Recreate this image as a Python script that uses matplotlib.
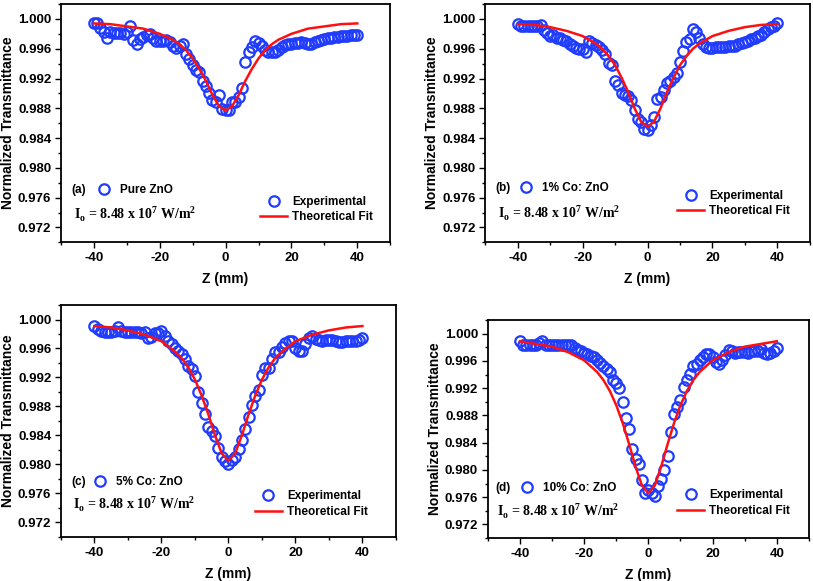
import matplotlib
matplotlib.use("Agg")
import matplotlib.pyplot as plt
from matplotlib.lines import Line2D
from matplotlib.ticker import MultipleLocator, FormatStrFormatter

plt.rcParams["font.family"] = ["Liberation Sans", "DejaVu Sans"]
plt.rcParams["font.weight"] = "bold"
plt.rcParams["axes.unicode_minus"] = False
plt.rcParams["mathtext.fontset"] = "custom"
plt.rcParams["mathtext.rm"] = "Liberation Serif:bold"
plt.rcParams["mathtext.bf"] = "Liberation Serif:bold"

# z positions of the experimental points (mm)
z_exp = list(range(-40, 41))

# normalized transmittance
t_pure = [
    0.9994, 0.9994, 0.9988, 0.9983, 0.9974, 0.9982, 0.9981, 0.9981, 0.9981, 0.9980,
    0.9983, 0.9990, 0.9972, 0.9967, 0.9973, 0.9976, 0.9979, 0.9980, 0.9974, 0.9971,
    0.9971, 0.9971, 0.9972, 0.9969, 0.9963, 0.9961, 0.9963, 0.9966, 0.9953, 0.9946,
    0.9938, 0.9931, 0.9929, 0.9916, 0.9910, 0.9900, 0.9891, 0.9888, 0.9898, 0.9879,
    0.9878,
    0.9878, 0.9888, 0.9889, 0.9895, 0.9907, 0.9942, 0.9956, 0.9962, 0.9970, 0.9968,
    0.9963, 0.9958, 0.9956, 0.9956, 0.9955, 0.9958, 0.9962, 0.9965, 0.9967, 0.9967,
    0.9968, 0.9968, 0.9969, 0.9968, 0.9967, 0.9967, 0.9969, 0.9970, 0.9972, 0.9973,
    0.9974, 0.9975, 0.9976, 0.9976, 0.9977, 0.9977, 0.9977, 0.9978, 0.9978, 0.9979,
]
t_co1 = [
    0.9993, 0.9991, 0.9990, 0.9990, 0.9990, 0.9990, 0.9991, 0.9992, 0.9985, 0.9981,
    0.9977, 0.9978, 0.9975, 0.9974, 0.9972, 0.9970, 0.9967, 0.9964, 0.9961, 0.9959,
    0.9960, 0.9955, 0.9971, 0.9968, 0.9965, 0.9962, 0.9958, 0.9953, 0.9941, 0.9938,
    0.9916, 0.9911, 0.9901, 0.9898, 0.9897, 0.9891, 0.9878, 0.9865, 0.9862, 0.9852,
    0.9851,
    0.9858, 0.9868, 0.9893, 0.9895, 0.9904, 0.9914, 0.9917, 0.9922, 0.9928, 0.9942,
    0.9957, 0.9969, 0.9973, 0.9986, 0.9982, 0.9974, 0.9966, 0.9962, 0.9961, 0.9961,
    0.9962, 0.9962, 0.9962, 0.9962, 0.9963, 0.9963, 0.9964, 0.9966, 0.9968, 0.9969,
    0.9971, 0.9973, 0.9975, 0.9977, 0.9979, 0.9982, 0.9986, 0.9989, 0.9991, 0.9994,
]
t_co5 = [
    0.9991, 0.9987, 0.9984, 0.9983, 0.9983, 0.9983, 0.9984, 0.9990, 0.9984, 0.9983,
    0.9983, 0.9983, 0.9983, 0.9983, 0.9982, 0.9983, 0.9974, 0.9976, 0.9982, 0.9982,
    0.9984, 0.9977, 0.9971, 0.9966, 0.9960, 0.9957, 0.9952, 0.9946, 0.9936, 0.9932,
    0.9922, 0.9900, 0.9885, 0.9870, 0.9852, 0.9846, 0.9839, 0.9822, 0.9810, 0.9805,
    0.9800,
    0.9806, 0.9810, 0.9821, 0.9833, 0.9849, 0.9865, 0.9882, 0.9895, 0.9903, 0.9924,
    0.9933, 0.9933, 0.9945, 0.9955, 0.9955, 0.9962, 0.9967, 0.9971, 0.9970, 0.9960,
    0.9957, 0.9957, 0.9966, 0.9975, 0.9977, 0.9973, 0.9972, 0.9971, 0.9972, 0.9972,
    0.9972, 0.9970, 0.9969, 0.9969, 0.9970, 0.9970, 0.9970, 0.9971, 0.9972, 0.9974,
]
t_co10 = [
    0.9990, 0.9984, 0.9983, 0.9983, 0.9983, 0.9984, 0.9987, 0.9989, 0.9984, 0.9983,
    0.9983, 0.9983, 0.9983, 0.9983, 0.9983, 0.9983, 0.9984, 0.9979, 0.9976, 0.9974,
    0.9972, 0.9970, 0.9968, 0.9966, 0.9961, 0.9957, 0.9953, 0.9948, 0.9944, 0.9932,
    0.9927, 0.9921, 0.9900, 0.9876, 0.9860, 0.9831, 0.9816, 0.9808, 0.9785, 0.9766,
    0.9771,
    0.9766, 0.9762, 0.9776, 0.9786, 0.9800, 0.9821, 0.9855, 0.9882, 0.9893, 0.9903,
    0.9922, 0.9932, 0.9941, 0.9952, 0.9955, 0.9961, 0.9966, 0.9970, 0.9970, 0.9966,
    0.9958, 0.9956, 0.9962, 0.9969, 0.9976, 0.9975, 0.9972, 0.9973, 0.9973, 0.9973,
    0.9972, 0.9975, 0.9974, 0.9974, 0.9977, 0.9971, 0.9970, 0.9972, 0.9975, 0.9979,
]

# theoretical fit curves, read at these z values
z_fit = [-40, -35, -30, -25, -20, -16, -14, -12, -10, -8, -6, -4, -2, 0,
         2, 4, 6, 8, 10, 12, 14, 16, 20, 25, 30, 35, 40]
fit_pure = [0.9994, 0.9993, 0.9990, 0.9987, 0.9980, 0.9972, 0.9966, 0.9958, 0.9947,
            0.9933, 0.9917, 0.9898, 0.9883, 0.9877, 0.9883, 0.9898, 0.9917, 0.9933,
            0.9947, 0.9958, 0.9966, 0.9972, 0.9980, 0.9987, 0.9990, 0.9993, 0.9994]
fit_co1 = [0.9993, 0.9992, 0.9989, 0.9984, 0.9977, 0.9967, 0.9960, 0.9950, 0.9938,
           0.9921, 0.9902, 0.9880, 0.9862, 0.9855, 0.9862, 0.9880, 0.9902, 0.9921,
           0.9938, 0.9950, 0.9960, 0.9967, 0.9977, 0.9984, 0.9989, 0.9992, 0.9993]
fit_co5 = [0.9991, 0.9989, 0.9985, 0.9979, 0.9970, 0.9956, 0.9947, 0.9934, 0.9917,
           0.9895, 0.9869, 0.9840, 0.9815, 0.9805, 0.9815, 0.9840, 0.9869, 0.9895,
           0.9917, 0.9934, 0.9947, 0.9956, 0.9970, 0.9979, 0.9985, 0.9989, 0.9991]
fit_co10 = [0.9989, 0.9985, 0.9981, 0.9973, 0.9961, 0.9944, 0.9932, 0.9916, 0.9895,
            0.9869, 0.9838, 0.9805, 0.9777, 0.9766, 0.9777, 0.9805, 0.9838, 0.9869,
            0.9895, 0.9916, 0.9932, 0.9944, 0.9961, 0.9973, 0.9981, 0.9985, 0.9989]

tags = ["(a)", "(b)", "(c)", "(d)"]
samples = ["Pure ZnO", "1% Co: ZnO", "5% Co: ZnO", "10% Co: ZnO"]
exp_series = [t_pure, t_co1, t_co5, t_co10]
fit_series = [fit_pure, fit_co1, fit_co5, fit_co10]

BLUE = "#1f3cff"
RED = "#ff1010"

fig = plt.figure(figsize=(8.13, 5.81), dpi=100)
# axes boxes in figure fractions (left, bottom, width, height)
boxes = [
    (0.075, 0.583, 0.405, 0.410),
    (0.597, 0.583, 0.399, 0.410),
    (0.075, 0.076, 0.412, 0.399),
    (0.600, 0.074, 0.395, 0.375),
]
# per-panel placement of annotations (axes fractions)
tag_pos = [(0.033, 0.218), (0.031, 0.227), (0.030, 0.238), (0.023, 0.228)]
sample_leg_x = [0.105, 0.097, 0.090, 0.095]
io_pos = [(0.040, 0.122), (0.039, 0.126), (0.037, 0.145), (0.028, 0.128)]
leg_pos = [(0.605, 0.137), (0.591, 0.162), (0.579, 0.141), (0.589, 0.161)]

for i in range(4):
    ax = fig.add_axes(boxes[i])
    ax.plot(z_exp, exp_series[i], ls="none", marker="o", ms=7.5, mfc="none",
            mec=BLUE, mew=1.6, label="Experimental")
    ax.plot(z_fit, fit_series[i], color=RED, lw=1.8, label="Theoretical Fit")

    ax.set_xlim(-50, 50)
    ax.xaxis.set_major_locator(MultipleLocator(20))
    ax.xaxis.set_minor_locator(MultipleLocator(10))
    ax.yaxis.set_major_locator(MultipleLocator(0.004))
    ax.yaxis.set_minor_locator(MultipleLocator(0.002))
    ax.yaxis.set_major_formatter(FormatStrFormatter("%.3f"))
    ax.set_ylim(0.970, 1.002)
    ax.tick_params(which="both", direction="out", top=False, right=False,
                   width=1.0, labelsize=9.5)
    ax.tick_params(which="major", length=4, pad=3)
    ax.tick_params(which="minor", length=2.5)
    for sp in ax.spines.values():
        sp.set_linewidth(1.3)

    ax.set_xlabel("Z (mm)", fontsize=10, fontweight="bold", labelpad=6)
    ax.set_ylabel("Normalized Transmittance", fontsize=10, fontweight="bold", labelpad=2)

    main_leg = ax.legend(loc="center left", bbox_to_anchor=leg_pos[i], frameon=False,
                         fontsize=8.5, handlelength=2.3, handletextpad=0.4,
                         labelspacing=0.3, borderpad=0, borderaxespad=0, numpoints=1)
    ax.add_artist(main_leg)

    sample_handle = Line2D([], [], ls="none", marker="o", ms=7.5, mfc="none",
                           mec=BLUE, mew=1.6)
    ax.legend([sample_handle], [samples[i]], loc="center left",
              bbox_to_anchor=(sample_leg_x[i], tag_pos[i][1]), frameon=False,
              fontsize=8.5, handlelength=1.5, handletextpad=0.6,
              borderpad=0, borderaxespad=0)
    ax.text(tag_pos[i][0], tag_pos[i][1], tags[i], transform=ax.transAxes,
            fontsize=8.5, fontweight="bold", va="center", ha="left")

    ax.text(io_pos[i][0], io_pos[i][1],
            r"I$_\mathrm{o}$ = 8.48 x 10$^\mathrm{7}$ W/m$^\mathrm{2}$",
            transform=ax.transAxes, fontsize=10, fontweight="bold",
            family="Liberation Serif", va="center", ha="left")

fig.savefig("out.png", dpi=100)
